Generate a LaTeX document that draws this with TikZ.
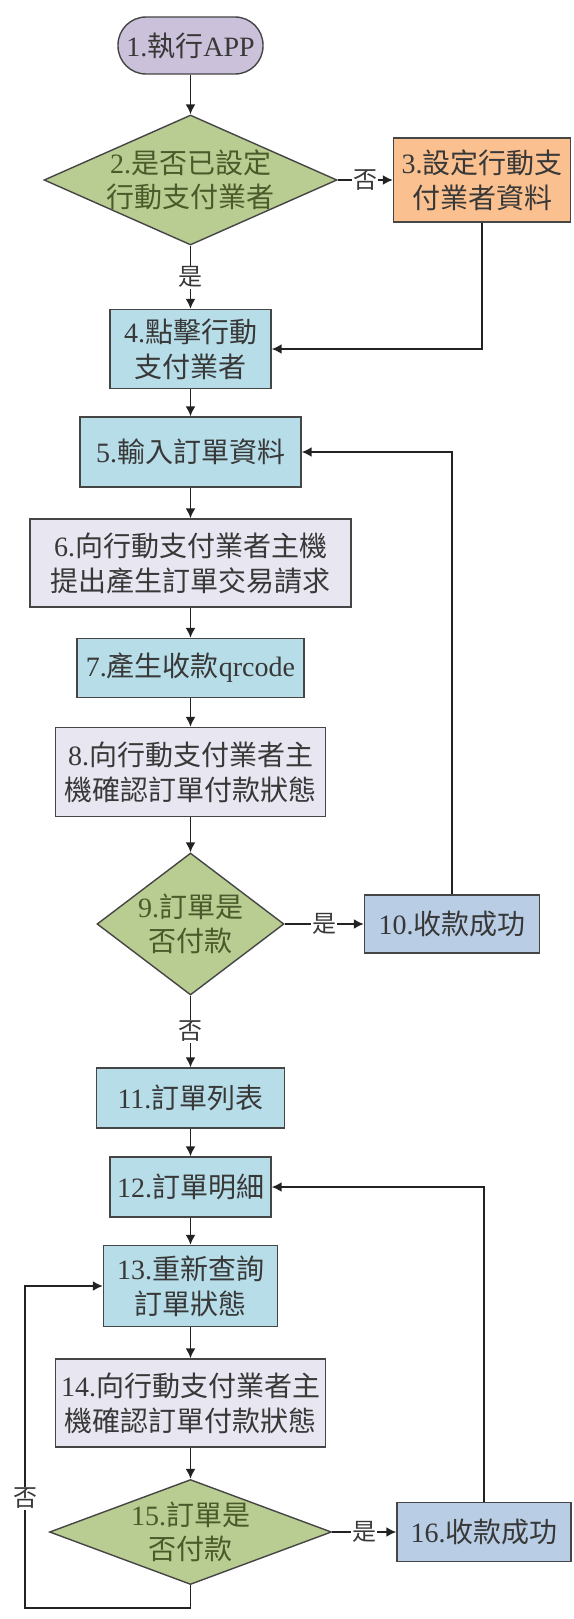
\documentclass[tikz,border=0pt]{standalone}
\usepackage{fontspec}
\setmainfont{Liberation Serif}
\newfontfamily\cjk{Noto Sans CJK TC}
\newcommand{\zh}[1]{{\cjk #1}}
\usetikzlibrary{arrows.meta,shapes.geometric}
\definecolor{bordc}{HTML}{454545}
\definecolor{linec}{HTML}{222222}
\definecolor{txtc}{HTML}{383838}
\definecolor{olivetxt}{HTML}{4A5A2A}
\definecolor{lav}{HTML}{CCC1DA}
\definecolor{diagreen}{HTML}{B9CC91}
\definecolor{orangec}{HTML}{FAC090}
\definecolor{aqua}{HTML}{B7DDE8}
\definecolor{grayl}{HTML}{E8E6F0}
\definecolor{steel}{HTML}{B9CDE5}
\begin{document}
\begin{tikzpicture}[x=1pt,y=-1pt,
  box/.style={draw=bordc, line width=1.4pt, inner sep=0pt, align=center, text=txtc, font=\fontsize{28}{35}\selectfont},
  dia/.style={diamond, draw=bordc, line width=1.4pt, fill=diagreen, inner sep=0pt},
  dtext/.style={align=center, text=olivetxt, inner sep=0pt, font=\fontsize{28}{34}\selectfont},
  arr/.style={draw=linec, line width=1.8pt, -{Latex[length=10pt,width=10pt]}},
  lbl/.style={fill=white, inner sep=1pt, text=txtc, font=\fontsize{24}{28}\selectfont\cjk}]
\useasboundingbox[fill=white] (0,0) rectangle (573,1619);

\node[box, fill=lav, rounded corners=28pt, minimum width=145pt, minimum height=57pt] (n1) at (190.5,45.5) {1.\zh{執行}APP};
\node[dia, minimum width=293pt, minimum height=130pt] (d2) at (190.5,180) {};
\node[dtext] (d2t) at (d2.center) {2.\zh{是否已設定}\\\zh{行動支付業者}};
\node[box, fill=orangec, minimum width=177pt, minimum height=84pt] (n3) at (482,180) {3.\zh{設定行動支}\\\zh{付業者資料}};
\node[box, fill=aqua, minimum width=161pt, minimum height=79pt] (n4) at (190.5,349) {4.\zh{點擊行動}\\\zh{支付業者}};
\node[box, fill=aqua, minimum width=221pt, minimum height=70pt] (n5) at (190.5,452) {5.\zh{輸入訂單資料}};
\node[box, fill=grayl, minimum width=321pt, minimum height=88pt] (n6) at (190.5,563) {6.\zh{向行動支付業者主機}\\\zh{提出產生訂單交易請求}};
\node[box, fill=aqua, minimum width=227pt, minimum height=59pt] (n7) at (190.5,668) {7.\zh{產生收款}qrcode};
\node[box, fill=grayl, minimum width=270pt, minimum height=89pt] (n8) at (190.5,772) {8.\zh{向行動支付業者主}\\\zh{機確認訂單付款狀態}};
\node[dia, minimum width=187pt, minimum height=142pt] (d9) at (190.5,924) {};
\node[dtext] (d9t) at (d9.center) {9.\zh{訂單是}\\\zh{否付款}};
\node[box, fill=steel, minimum width=175pt, minimum height=58pt] (n10) at (452,924) {10.\zh{收款成功}};
\node[box, fill=aqua, minimum width=188pt, minimum height=60pt] (n11) at (190.5,1098) {11.\zh{訂單列表}};
\node[box, fill=aqua, minimum width=161pt, minimum height=60pt] (n12) at (190.5,1187) {12.\zh{訂單明細}};
\node[box, fill=aqua, minimum width=174pt, minimum height=81pt] (n13) at (190.5,1286) {13.\zh{重新查詢}\\\zh{訂單狀態}};
\node[box, fill=grayl, minimum width=270pt, minimum height=88pt] (n14) at (190.5,1403) {14.\zh{向行動支付業者主}\\\zh{機確認訂單付款狀態}};
\node[dia, minimum width=282pt, minimum height=105pt] (d15) at (190.5,1532) {};
\node[dtext] (d15t) at (d15.center) {15.\zh{訂單是}\\\zh{否付款}};
\node[box, fill=steel, minimum width=174pt, minimum height=59pt] (n16) at (484,1532) {16.\zh{收款成功}};
\coordinate (lb) at (25,1608);

\draw[arr] (n1) -- (d2);
\draw[arr] (d2) -- node[lbl] {否} (n3);
\draw[arr] (d2) -- node[lbl] {是} (n4);
\draw[arr] (n3.south) |- (n4.east);
\draw[arr] (n4) -- (n5);
\draw[arr] (n5) -- (n6);
\draw[arr] (n6) -- (n7);
\draw[arr] (n7) -- (n8);
\draw[arr] (n8) -- (d9);
\draw[arr] (d9) -- node[lbl] {是} (n10);
\draw[arr] (n10.north) |- (n5.east);
\draw[arr] (d9) -- node[lbl] {否} (n11);
\draw[arr] (n11) -- (n12);
\draw[arr] (n12) -- (n13);
\draw[arr] (n13) -- (n14);
\draw[arr] (n14) -- (d15);
\draw[arr] (d15) -- node[lbl] {是} (n16);
\draw[arr] (n16.north) |- (n12.east);
\draw[arr] (d15.south) |- (lb) |- node[lbl, pos=0.17] {否} (n13.west);
\end{tikzpicture}
\end{document}
